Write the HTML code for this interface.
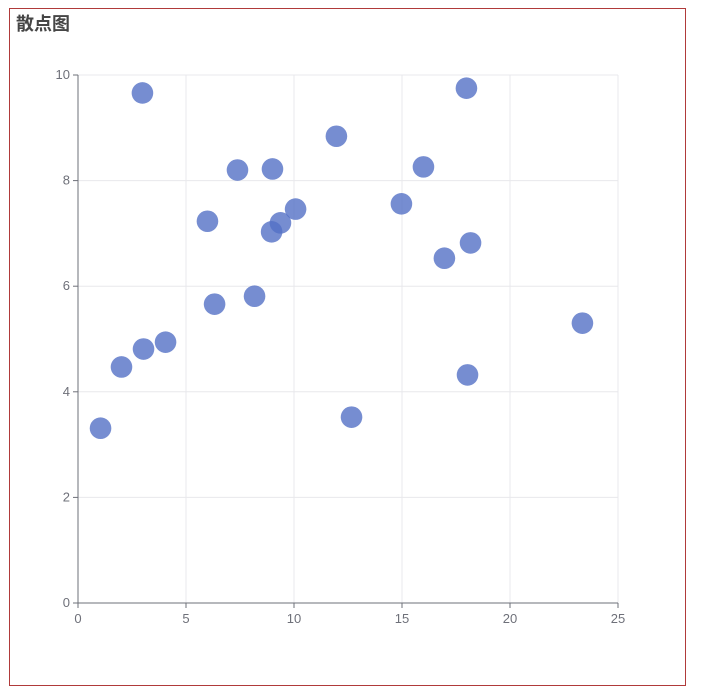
<!DOCTYPE html>
<html><head><meta charset="utf-8"><style>
body{margin:0;background:#fff;width:708px;height:697px;overflow:hidden;font-family:"Liberation Sans","Noto Sans CJK SC",sans-serif}
#frame{position:absolute;left:9px;top:8px;width:675px;height:676px;border:1px solid #b03a3a;}
#title{position:absolute;left:16px;top:10px;font-size:18px;font-weight:bold;color:#464646}
</style></head><body>
<div id="frame"></div>
<div id="title">散点图</div>
<svg id="chart" width="708" height="697" style="position:absolute;left:0;top:0"></svg>
<script>
const xTicks=[0,5,10,15,20,25];
const yTicks=[0,2,4,6,8,10];
const xValues=[1.02,2.96,1.99,3.01,4.03,5.97,6.30,7.36,8.15,8.98,8.94,9.35,10.05,11.94,12.64,14.95,15.97,16.94,17.96,18.15,18.01,23.33];
const yValues=[3.31,9.66,4.47,4.81,4.94,7.23,5.66,8.20,5.81,8.22,7.03,7.20,7.46,8.84,3.52,7.56,8.26,6.53,9.75,6.82,4.32,5.30];
const X0=78,X1=618,Y0=603,Y1=75;
const sx=v=>X0+(v-0)/(25-0)*(X1-X0);
const sy=v=>Y0-(v-0)/(10-0)*(Y0-Y1);
const svg=document.getElementById('chart');
const NS='http://www.w3.org/2000/svg';
function mk(t,a){const e=document.createElementNS(NS,t);for(const k in a)e.setAttribute(k,a[k]);svg.appendChild(e);return e;}
xTicks.forEach(t=>{
  if(t>0){const g=mk('line',{x1:sx(t),x2:sx(t),y1:Y1,y2:Y0,stroke:'#e8e8ec'});
  
  }
  const tk=mk('line',{x1:sx(t),x2:sx(t),y1:Y0,y2:Y0+5,stroke:'#6e7079'});
  
  
  const l=mk('text',{x:sx(t),y:Y0+20,'text-anchor':'middle','font-size':13,fill:'#6e7079'});
  l.textContent=t;
  
  
});
yTicks.forEach(t=>{
  if(t>0){const g=mk('line',{x1:X0,x2:X1,y1:sy(t),y2:sy(t),stroke:'#e8e8ec'});
  
  }
  const tk=mk('line',{x1:X0-5,x2:X0,y1:sy(t),y2:sy(t),stroke:'#6e7079'});
  
  
  const l=mk('text',{x:X0-8,y:sy(t)+4,'text-anchor':'end','font-size':13,fill:'#6e7079'});
  l.textContent=t;
  
  
});
const xa=mk('line',{x1:X0,x2:X1,y1:Y0,y2:Y0,stroke:'#6e7079'});


const ya=mk('line',{x1:X0,x2:X0,y1:Y1,y2:Y0,stroke:'#6e7079'});


xValues.forEach((v,i)=>{
  const c=mk('circle',{cx:sx(v)+0.5,cy:sy(yValues[i]),r:10.8,fill:'#5470c6','fill-opacity':0.8});
  
  
});
</script>
</body></html>
